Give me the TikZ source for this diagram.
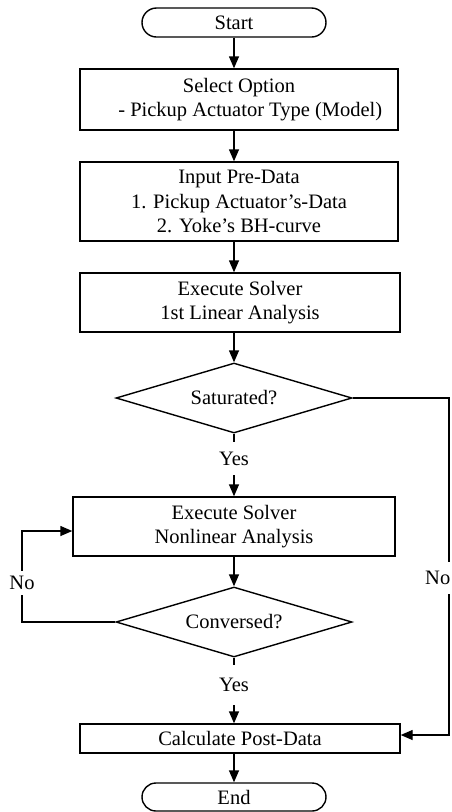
\documentclass[tikz,border=0pt]{standalone}
\usepackage{fontspec}
\setmainfont{Liberation Serif}
\usetikzlibrary{shapes.geometric,shapes.misc,arrows.meta}
\begin{document}
\begin{tikzpicture}[x=1pt,y=-1pt,
  every node/.style={font=\fontsize{20.5}{24.5}\selectfont},
  box/.style={draw,line width=1.4pt,rectangle,align=center,inner sep=0pt},
  term/.style={draw,line width=1.4pt,rounded rectangle,inner sep=0pt},
  dec/.style={draw,line width=1.4pt,diamond,inner sep=0pt,aspect=3.37,minimum width=236pt,minimum height=70pt},
  lbl/.style={fill=white,inner xsep=1pt},
  arr/.style={line width=1.4pt,-{Triangle[length=12pt,width=10pt]}},
  ln/.style={line width=1.4pt}]
\useasboundingbox (0,0) rectangle (451,812);
\node[term,minimum width=184pt,minimum height=29pt] (start) at (234,22.5) {Start};
\node[box,minimum width=318pt,minimum height=61pt] (b1) at (239,99.5) {Select Option\\\hspace*{1.1em}- Pickup Actuator Type (Model)};
\node[box,minimum width=318pt,minimum height=79pt] (b2) at (239,201.5) {Input Pre-Data\\1. Pickup Actuator's-Data\\2. Yoke's BH-curve};
\node[box,minimum width=320pt,minimum height=59pt] (b3) at (240,302.5) {Execute Solver\\1st Linear Analysis};
\node[dec] (d1) at (234,398) {Saturated?};
\node[lbl,inner ysep=0pt,minimum height=33pt] (y1) at (234,458.5) {Yes};
\node[box,minimum width=322pt,minimum height=59pt] (b4) at (234,526.5) {Execute Solver\\Nonlinear Analysis};
\node[dec] (d2) at (234,622) {Conversed?};
\node[lbl,inner ysep=0pt,minimum height=40pt] (y2) at (234,685) {Yes};
\node[box,minimum width=320pt,minimum height=29pt] (b5) at (240,738.5) {Calculate Post-Data};
\node[term,minimum width=184pt,minimum height=28pt] (end) at (234,797) {End};
\draw[arr] (start.south) -- (start.south |- b1.north);
\draw[arr] (start.south |- b1.south) -- (start.south |- b2.north);
\draw[arr] (start.south |- b2.south) -- (start.south |- b3.north);
\draw[arr] (start.south |- b3.south) -- (d1.north);
\draw[ln] (d1.south) -- (y1.north);
\draw[arr] (y1.south) -- (b4.north);
\draw[arr] (b4.south) -- (d2.north);
\draw[ln] (d2.south) -- (y2.north);
\draw[arr] (y2.south) -- (start.south |- b5.north);
\draw[arr] (start.south |- b5.south) -- (end.north);
\coordinate (l1) at (22,622);
\coordinate (l2) at (22,531);
\draw[arr] (d2.west) -- (l1) -- (l2) -- (l2 -| b4.west);
\coordinate (r1) at (449,398);
\coordinate (r2) at (449,735);
\draw[arr] (d1.east) -- (r1) -- (r2) -- (r2 -| b5.east);
\node[lbl,inner ysep=5pt] (noL) at (22,583) {No};
\node[lbl,inner ysep=9pt,inner xsep=0.5pt,anchor=east] (noR) at (451,578) {No};
\end{tikzpicture}
\end{document}
